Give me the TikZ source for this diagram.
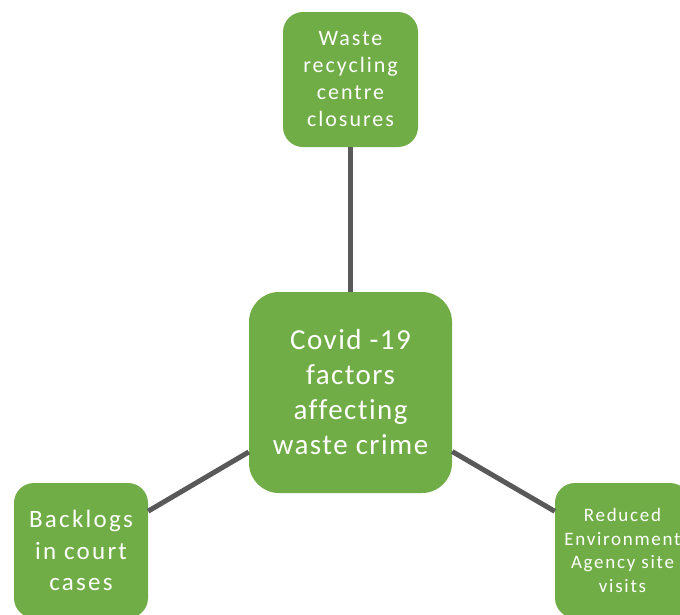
\documentclass[tikz,border=0pt]{standalone}
\usepackage{fontspec}
\setmainfont{Carlito}[Ligatures=NoCommon]
\newfontfamily\centerfont{Carlito}[Ligatures=NoCommon,LetterSpace=5]
\newfontfamily\smallfont{Carlito}[Ligatures=NoCommon,LetterSpace=9]
\definecolor{boxgreen}{HTML}{70AD47}
\definecolor{linegray}{HTML}{595959}
\begin{document}
\begin{tikzpicture}[x=1pt,y=-1pt,
  gbox/.style={fill=boxgreen, draw=none, text=white, align=center, inner sep=0pt},
  conn/.style={draw=linegray, line width=5pt}]
\useasboundingbox (0,0) rectangle (680,614);
\clip (0,0) rectangle (680,614);
\node[gbox, minimum width=203pt, minimum height=201pt, rounded corners=30pt,
  font=\centerfont\fontsize{29}{35}\selectfont] (c) at (350.5,392.5) {Covid -19\\factors\\affecting\\waste crime};
\node[gbox, minimum width=135pt, minimum height=135pt, rounded corners=20pt,
  font=\smallfont\fontsize{22}{27}\selectfont] (t) at (350.5,79.5) {Waste\\recycling\\centre\\closures};
\node[gbox, minimum width=134pt, minimum height=135pt, rounded corners=20pt,
  font=\smallfont\fontsize{25}{31.5}\selectfont] (bl) at (81,550.5) {Backlogs\\in court\\cases};
\node[gbox, minimum width=135pt, minimum height=135pt, rounded corners=20pt,
  font=\smallfont\fontsize{19}{23.5}\selectfont] (br) at (622.5,550.5) {Reduced\\Environment\\Agency site\\visits};
\draw[conn] (t) -- (c);
\draw[conn] (c) -- (bl);
\draw[conn] (c) -- (br);
\end{tikzpicture}
\end{document}
